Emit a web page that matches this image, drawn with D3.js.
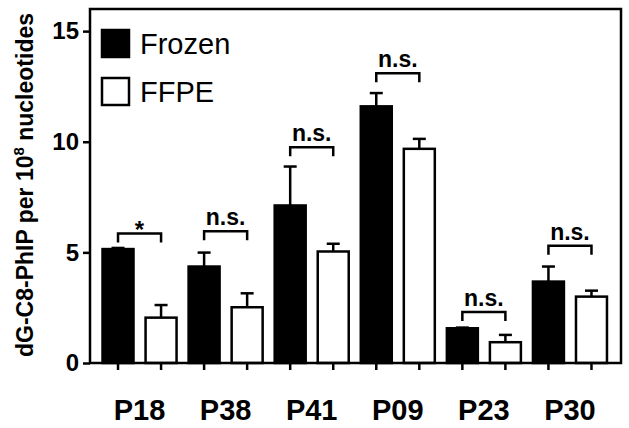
<!DOCTYPE html>
<html>
<head>
<meta charset="utf-8">
<script src="https://cdn.jsdelivr.net/npm/d3@7"></script>
<style>
  html, body { margin: 0; padding: 0; background: #fff; }
  svg text { font-family: "Liberation Sans", Arial, Helvetica, sans-serif; fill: #000; }
</style>
</head>
<body>
<svg id="chart" width="629" height="428"></svg>
<script>
// values
var categories = ['P18', 'P38', 'P41', 'P09', 'P23', 'P30'];
var series = ['Frozen', 'FFPE'];
var frozenMean = [5.15, 4.36, 7.12, 11.6, 1.57, 3.68];
var frozenErr  = [0.05, 0.63, 1.76, 0.60, 0.03, 0.68];
var ffpeMean   = [2.05, 2.52, 5.04, 9.68, 0.94, 3.00];
var ffpeErr    = [0.57, 0.63, 0.35, 0.45, 0.33, 0.27];
var sigLabels  = ['*', 'n.s.', 'n.s.', 'n.s.', 'n.s.', 'n.s.'];
var sigLevel   = [5.85, 5.95, 9.75, 13.1, 2.3, 5.3];
var yTicks = [0, 5, 10, 15];

var svg = d3.select('#chart');

var frame = {left: 90, right: 621, top: 9, bottom: 363};

var y = d3.scaleLinear().domain([0, 16]).range([frame.bottom, frame.top]);

var x0 = d3.scaleBand().domain(categories).range([96.5, 613]).paddingInner(0);
var x1 = d3.scaleBand().domain(series).range([0, x0.bandwidth()])
  .paddingInner(0.28).paddingOuter(0.14);

var rows = categories.map(function(c, i) {
  return {
    cat: c,
    sig: sigLabels[i],
    level: sigLevel[i],
    bars: [
      {key: 'Frozen', v: frozenMean[i], e: frozenErr[i]},
      {key: 'FFPE', v: ffpeMean[i], e: ffpeErr[i]}
    ]
  };
});

var g = svg.append('g');

var groups = g.selectAll('.grp').data(rows).enter().append('g')
  .attr('class', 'grp')
  .attr('transform', function(d) { return 'translate(' + x0(d.cat) + ',0)'; });

// error bars (upper half only), drawn under the bars
groups.selectAll('.err').data(function(d) { return d.bars; }).enter().append('g')
  .attr('class', 'err')
  .each(function(b) {
    var cx = x1(b.key) + x1.bandwidth() / 2;
    var s = d3.select(this);
    s.append('line')
      .attr('x1', cx).attr('x2', cx)
      .attr('y1', y(b.v)).attr('y2', y(b.v + b.e))
      .attr('stroke', '#000').attr('stroke-width', 2.5);
    s.append('line')
      .attr('x1', cx - 6.5).attr('x2', cx + 6.5)
      .attr('y1', y(b.v + b.e)).attr('y2', y(b.v + b.e))
      .attr('stroke', '#000').attr('stroke-width', 2.5);
  });

groups.selectAll('rect').data(function(d) { return d.bars; }).enter().append('rect')
  .attr('x', function(b) { return x1(b.key); })
  .attr('y', function(b) { return y(b.v); })
  .attr('width', x1.bandwidth())
  .attr('height', function(b) { return y(0) - y(b.v); })
  .attr('fill', function(b) { return b.key === 'Frozen' ? '#000' : '#fff'; })
  .attr('stroke', '#000')
  .attr('stroke-width', 2.5);

// significance brackets
groups.each(function(d) {
  var s = d3.select(this);
  var xa = x1('Frozen') + x1.bandwidth() / 2;
  var xb = x1('FFPE') + x1.bandwidth() / 2;
  var by = y(d.level);
  s.append('path')
    .attr('d', 'M' + xa + ',' + (by + 9) + 'V' + by + 'H' + xb + 'V' + (by + 9))
    .attr('fill', 'none').attr('stroke', '#000').attr('stroke-width', 2.5);
  s.append('text')
    .attr('x', (xa + xb) / 2)
    .attr('y', d.sig === '*' ? by + 4 : by - 6)
    .attr('text-anchor', 'middle')
    .attr('font-weight', 'bold')
    .attr('font-size', d.sig === '*' ? 24 : 23)
    .text(d.sig);
});

// frame
g.append('rect')
  .attr('x', frame.left).attr('y', frame.top)
  .attr('width', frame.right - frame.left).attr('height', frame.bottom - frame.top)
  .attr('fill', 'none').attr('stroke', '#000').attr('stroke-width', 2.5);

// y axis
var yAxis = d3.axisLeft(y).tickValues(yTicks).tickSize(7).tickPadding(4).tickFormat(d3.format('d'));
var ya = g.append('g').attr('transform', 'translate(' + frame.left + ',0)').call(yAxis);
ya.select('.domain').remove();
ya.selectAll('line').attr('stroke', '#000').attr('stroke-width', 2.5);
ya.selectAll('text').attr('font-size', 24).attr('font-weight', 'bold')
  .attr('font-family', '"Liberation Sans", Arial, sans-serif').attr('fill', '#000');

// x ticks at every bar centre
var xt = [];
categories.forEach(function(c) {
  series.forEach(function(k) { xt.push(x0(c) + x1(k) + x1.bandwidth() / 2); });
});
g.selectAll('.xtick').data(xt).enter().append('line')
  .attr('class', 'xtick')
  .attr('x1', function(d) { return d; }).attr('x2', function(d) { return d; })
  .attr('y1', frame.bottom).attr('y2', frame.bottom + 7)
  .attr('stroke', '#000').attr('stroke-width', 2.5);

// category labels
g.selectAll('.cat').data(categories).enter().append('text')
  .attr('class', 'cat')
  .attr('x', function(c) { return x0(c) + x0.bandwidth() / 2; })
  .attr('y', 420)
  .attr('text-anchor', 'middle')
  .attr('font-weight', 'bold')
  .attr('font-size', 29)
  .text(function(c) { return c; });

// y title
var yt = svg.append('text')
  .attr('transform', 'translate(33,185) rotate(-90)')
  .attr('text-anchor', 'middle')
  .attr('font-weight', 'bold')
  .attr('font-size', 23);
yt.append('tspan').text('dG-C8-PhIP per 10');
yt.append('tspan').attr('font-size', 15).attr('dy', -9).text('8');
yt.append('tspan').attr('dy', 9).text(' nucleotides');

// legend
var legend = svg.append('g').attr('transform', 'translate(102,30)');
legend.selectAll('g').data(series).enter().append('g')
  .attr('transform', function(d, i) { return 'translate(0,' + (i * 48) + ')'; })
  .each(function(k) {
    var s = d3.select(this);
    s.append('rect')
      .attr('x', 0).attr('y', 0).attr('width', 27).attr('height', 27)
      .attr('fill', k === 'Frozen' ? '#000' : '#fff')
      .attr('stroke', '#000').attr('stroke-width', 2.5);
    s.append('text')
      .attr('x', 38).attr('y', 24)
      .attr('font-size', 29)
      .text(k);
  });
</script>
</body>
</html>
